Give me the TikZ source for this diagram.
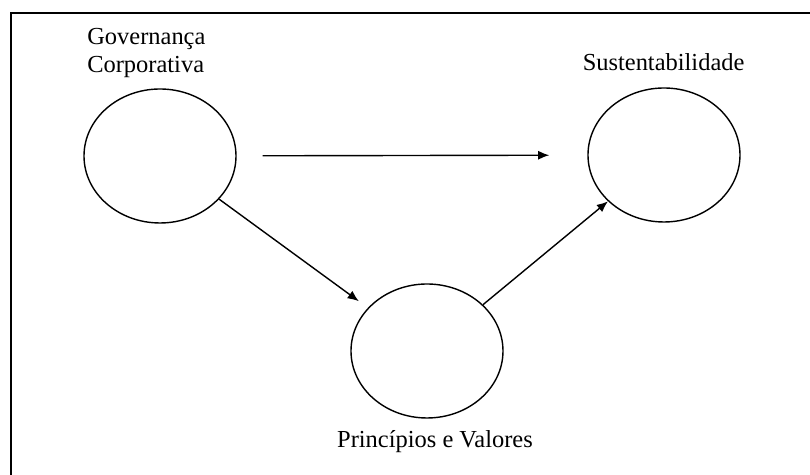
\documentclass[tikz,border=0pt]{standalone}
\usepackage{fontspec}
\setmainfont{Liberation Serif}
\usepackage{tikz}
\usetikzlibrary{positioning, shapes.geometric, arrows.meta}

\tikzset{
    bolha/.style={draw, ellipse, line width=1pt, minimum width=3.8cm, minimum height=3.35cm, inner sep=0pt},
    rotulo/.style={inner sep=0pt, font=\fontsize{17.4}{20}\selectfont},
    seta/.style={line width=1pt, -{Latex[length=8pt, width=6.5pt]}}
}

\begin{document}
\begin{tikzpicture}
        \useasboundingbox (0,0) rectangle (20.25,11.875);
        \coordinate (F1) at (0.275,0);
        \coordinate (F2) at (0.275,11.55);
        \coordinate (F3) at (20.25,11.55);
        \draw[line width=1.4pt] (F1) -- (F2) -- (F3);
        % as tres bolhas
        \node[bolha] (gov) at (4.0,7.975) {};
        \node[bolha] (sust) at (16.6,8.0) {};
        \node[bolha] (princ) at (10.675,3.1) {};
        \node[rotulo, anchor=north west, align=left] (govtxt) at (2.175,11.175) {Governança\\Corporativa};
        \node[rotulo, anchor=base] (susttxt) at (16.59,10.1) {Sustentabilidade};
        \node[rotulo, anchor=base] (princtxt) at (10.875,0.675) {Princípios e Valores};
        % setas
        \draw[seta, shorten <=0.65cm, shorten >=0.95cm] (gov) -- (sust);
        \draw[seta, shorten >=0.28cm] (gov) -- (princ);
        \draw[seta] (princ) -- (sust);
\end{tikzpicture}
\end{document}
